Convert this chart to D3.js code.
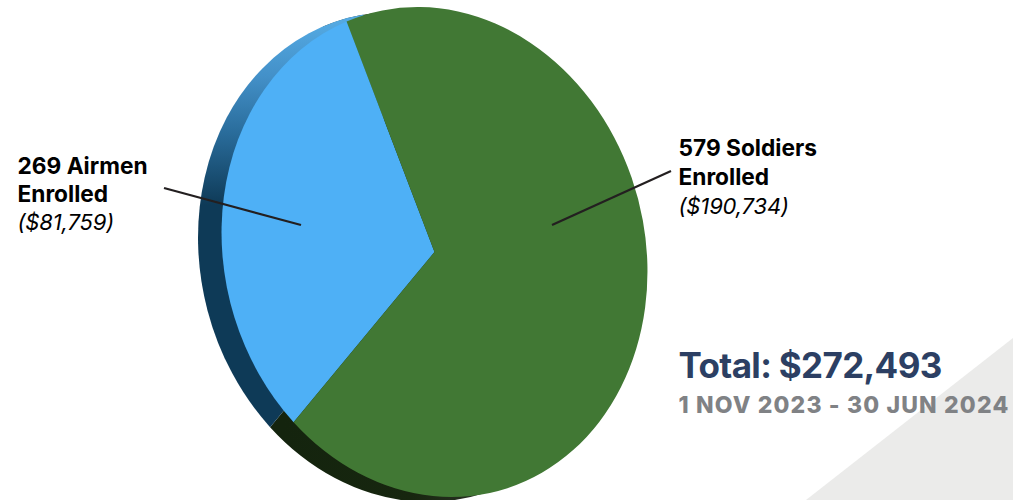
<!DOCTYPE html>
<html><head><meta charset="utf-8">
<script src="https://cdn.jsdelivr.net/npm/d3@7"></script>
<style>html,body{margin:0;padding:0;background:#fff;overflow:hidden}svg{display:block}text{font-family:Inter,sans-serif}</style>
</head><body><svg id="c" width="1013" height="500"></svg>
<script>
const branches = ["Airmen", "Soldiers"];
const enrolled = [269, 579];
const amounts = [81759, 190734];
const totalAmount = 272493;
const dateRange = "1 NOV 2023 - 30 JUN 2024";

const svg = d3.select("#c");
const fmt = d3.format("$,");
const R = 100, cx = 434.5, cy = 252;
const sx = 212.3, sy = 245, skew = 17, dx = -23.5, dy = 5;
const front = ["#4eb0f6", "#417834"];

const defs = svg.append("defs");
const gb = defs.append("linearGradient").attr("id", "wallBlue").attr("gradientUnits", "userSpaceOnUse")
  .attr("x1", 0).attr("x2", 0).attr("y1", (22 - cy - dy) / sy * R).attr("y2", (205 - cy - dy) / sy * R);
[[0, "#54a9e2"], [0.3, "#4390c8"], [0.6, "#2a6d9c"], [1, "#0e3a57"]].forEach(([o, c]) => gb.append("stop").attr("offset", o).attr("stop-color", c));
const gg = defs.append("linearGradient").attr("id", "wallGreen").attr("gradientUnits", "userSpaceOnUse")
  .attr("x1", (270 - cx - dx) / sx * R).attr("x2", (480 - cx - dx) / sx * R).attr("y1", 0).attr("y2", 0);
[[0, "#14240e"], [0.6, "#17260f"], [1, "#2e352a"]].forEach(([o, c]) => gg.append("stop").attr("offset", o).attr("stop-color", c));

// background corner
svg.append("path").attr("d", d3.line()([[1013, 338], [1013, 500], [806, 500]]) + "Z").attr("fill", "#ebebea");

const a0 = -134 * Math.PI / 180;
const pie = d3.pie().sort(null).startAngle(a0).endAngle(a0 + 2 * Math.PI);
const arcs = pie(enrolled);
const arc = d3.arc().innerRadius(0).outerRadius(R).digits(4);
const m = (x, y) => `matrix(${sx / R},0,${skew / R},${sy / R},${x},${y})`;

// extruded wall: green first, then blue running a little past its end so the top seam stays hidden
const wall = svg.append("g").attr("transform", m(cx + dx, cy + dy));
wall.append("path").attr("d", arc(arcs[1])).attr("fill", "url(#wallGreen)");
wall.append("path").attr("d", arc({ ...arcs[0], endAngle: arcs[0].endAngle + 0.2 })).attr("fill", "url(#wallBlue)");
// face
svg.append("g").attr("transform", m(cx, cy)).selectAll("path").data(arcs).join("path")
  .attr("d", arc).attr("fill", (d, i) => front[i]);

// leader lines
const leaders = [[[164, 188], [301, 225]], [[671, 171], [552, 225]]];
svg.selectAll("line.l").data(leaders).join("line").attr("class", "l")
  .attr("x1", d => d[0][0]).attr("y1", d => d[0][1]).attr("x2", d => d[1][0]).attr("y2", d => d[1][1])
  .attr("stroke", "#231f20").attr("stroke-width", 2.2);

// labels
const labelPos = [[17.5, 174, 28], [678.5, 156, 29]];
branches.forEach((b, i) => {
  const [x, y, lh] = labelPos[i];
  const t = svg.append("text").attr("fill", "#000").attr("font-size", 22.7);
  t.append("tspan").attr("x", x).attr("y", y).attr("font-weight", 700).text(`${enrolled[i]} ${b}`);
  t.append("tspan").attr("x", x).attr("y", y + lh).attr("font-weight", 700).text("Enrolled");
  t.append("tspan").attr("x", x).attr("y", y + 2 * lh).attr("font-size", 22).attr("letter-spacing", -0.15).attr("font-style", "italic").attr("font-weight", 400).text(`(${fmt(amounts[i])})`);
});

svg.append("text").attr("x", 678.5).attr("y", 378).attr("font-size", 35).attr("font-weight", 700).attr("letter-spacing", -0.65)
  .attr("fill", "#2c3f63").text(`Total: ${fmt(totalAmount)}`);
svg.append("text").attr("x", 678.5).attr("y", 413).attr("font-size", 23).attr("font-weight", 800)
  .attr("letter-spacing", 1.15).attr("fill", "#808285").text(dateRange);
</script></body></html>
